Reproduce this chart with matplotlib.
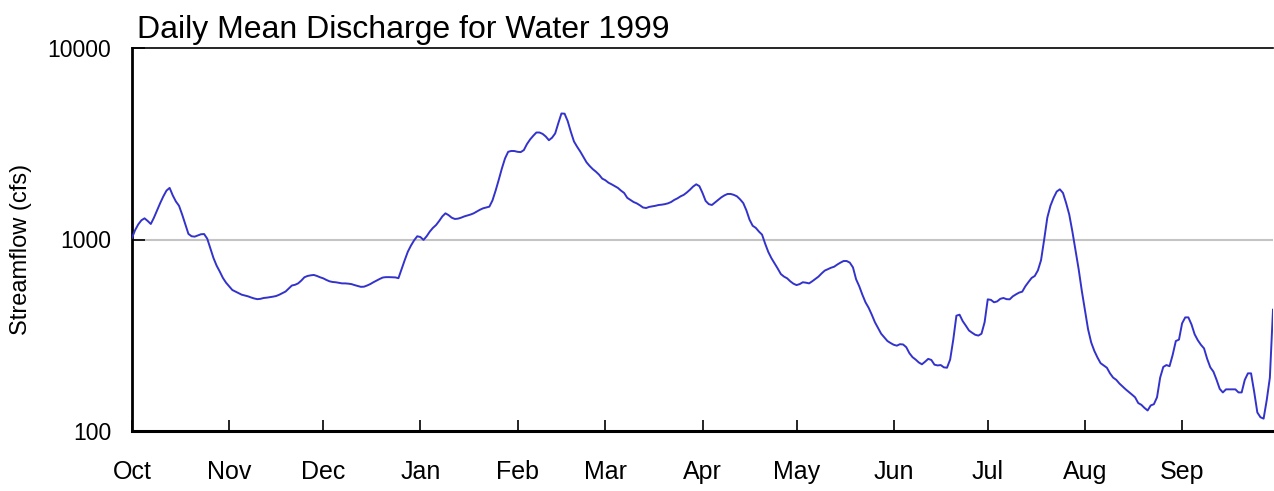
import numpy as np
import matplotlib
matplotlib.use('Agg')
import matplotlib.pyplot as plt

plt.rcParams['font.family'] = ['Liberation Sans', 'DejaVu Sans']

months = ['Oct', 'Nov', 'Dec', 'Jan', 'Feb', 'Mar', 'Apr', 'May', 'Jun', 'Jul', 'Aug', 'Sep']
month_days = [31, 30, 31, 31, 28, 31, 30, 31, 30, 31, 31, 30]

# daily mean discharge (cfs), water year 1999
oct_q = [1020, 1120, 1200, 1260, 1290, 1250, 1205, 1300, 1420, 1550, 1680, 1800, 1860, 1700, 1580, 1500,
         1350, 1200, 1070, 1040, 1035, 1050, 1065, 1068, 1010, 900, 800, 730, 680, 630, 595]
nov_q = [570, 545, 535, 525, 515, 510, 505, 498, 492, 488, 490, 495, 497, 500, 503, 507, 515, 525, 535,
         555, 575, 580, 590, 610, 635, 645, 650, 653, 645, 635]
dec_q = [627, 615, 605, 600, 598, 594, 590, 590, 588, 585, 578, 572, 566, 567, 575, 585, 598, 610, 622,
         633, 636, 636, 635, 634, 628, 700, 780, 864, 930, 990, 1040]
jan_q = [1030, 995, 1040, 1100, 1150, 1190, 1250, 1320, 1370, 1340, 1300, 1280, 1285, 1300, 1320, 1335,
         1350, 1370, 1400, 1430, 1455, 1470, 1484, 1600, 1800, 2050, 2350, 2650, 2870, 2900, 2897]
feb_q = [2870, 2860, 2930, 3150, 3330, 3480, 3620, 3620, 3560, 3450, 3300, 3400, 3580, 4050, 4550, 4540,
         4150, 3650, 3250, 3050, 2880, 2700, 2530, 2420, 2330, 2260, 2180, 2080]
mar_q = [2040, 1980, 1942, 1900, 1860, 1800, 1750, 1650, 1610, 1570, 1545, 1510, 1470, 1460, 1480, 1490,
         1500, 1514, 1520, 1530, 1545, 1570, 1610, 1640, 1680, 1710, 1760, 1820, 1890, 1942, 1900]
apr_q = [1750, 1590, 1530, 1514, 1560, 1610, 1660, 1700, 1729, 1729, 1710, 1680, 1620, 1550, 1420, 1270,
         1180, 1150, 1100, 1060, 950, 860, 798, 750, 705, 660, 640, 627, 605, 588]
may_q = [578, 585, 598, 595, 590, 605, 622, 640, 665, 688, 700, 712, 721, 740, 757, 772, 772, 757, 715,
         620, 570, 515, 470, 440, 405, 370, 345, 322, 308, 295, 288]
jun_q = [282, 279, 284, 283, 274, 255, 243, 236, 228, 223, 230, 238, 235, 222, 220, 221, 215, 214, 236,
         300, 400, 405, 375, 355, 335, 326, 318, 315, 322, 370]
jul_q = [487, 484, 470, 475, 490, 495, 488, 487, 505, 517, 528, 534, 570, 600, 630, 645, 690, 780, 1000,
         1300, 1500, 1650, 1780, 1828, 1750, 1550, 1350, 1100, 880, 700, 540]
aug_q = [430, 340, 290, 262, 242, 226, 220, 214, 200, 190, 185, 177, 171, 165, 160, 155, 150, 140, 137,
         132, 128, 136, 138, 150, 190, 216, 221, 218, 250, 295, 300]
sep_q = [365, 392, 392, 360, 320, 298, 282, 270, 238, 215, 204, 185, 166, 159, 165, 165, 165, 165, 159,
         159, 185, 200, 200, 160, 125, 118, 116, 145, 190, 430]

flow = np.array(oct_q + nov_q + dec_q + jan_q + feb_q + mar_q + apr_q + may_q + jun_q + jul_q + aug_q + sep_q)
days = np.arange(len(flow))
month_starts = np.cumsum([0] + month_days[:-1])

fig = plt.figure(figsize=(12.74, 4.91), dpi=100)
ax = fig.add_axes([132 / 1274, 60 / 491, 1141 / 1274, 383 / 491])

ax.axhline(1000, color='#c4c4c4', lw=1.5, zorder=1)
ax.plot(days, flow, color='#3333cc', lw=1.4, zorder=3)

ax.set_yscale('log')
ax.set_ylim(100, 10000)
ax.set_xlim(0, len(flow) - 1)
ax.set_yticks([100, 1000, 10000])
ax.set_yticklabels(['100', '1000', '10000'])
ax.minorticks_off()
ax.set_xticks(month_starts)
ax.set_xticklabels(months)

ax.tick_params(axis='x', direction='in', length=8, width=1.2, pad=21, labelsize=18)
ax.tick_params(axis='y', direction='in', length=9, width=1.2, pad=15, labelsize=16.5)

ax.spines['right'].set_visible(False)
ax.spines['left'].set_linewidth(2)
ax.spines['bottom'].set_linewidth(2.2)
ax.spines['top'].set_linewidth(1.2)

ax.set_ylabel('Streamflow (cfs)', fontsize=17)
ax.yaxis.set_label_coords(-0.088, 0.473)
ax.set_title('Daily Mean Discharge for Water 1999', loc='left', fontsize=23, pad=7, x=0.004)

fig.savefig('out.png', dpi=100)
